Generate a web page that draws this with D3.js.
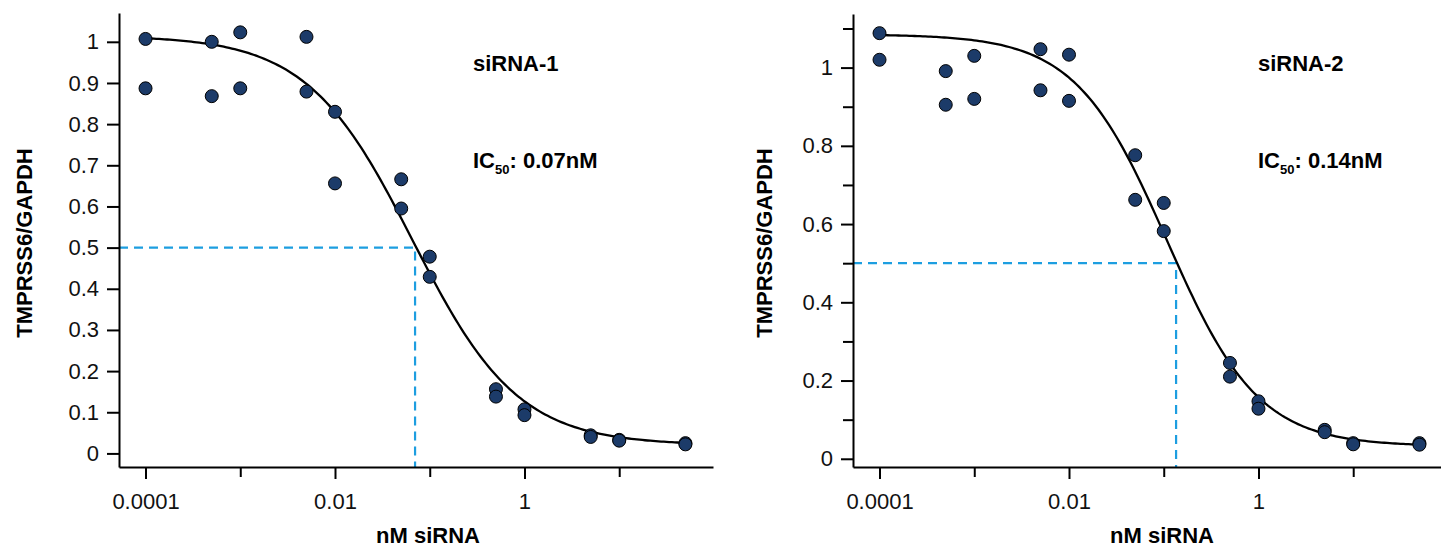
<!DOCTYPE html>
<html>
<head>
<meta charset="utf-8">
<script src="https://cdn.jsdelivr.net/npm/d3@7"></script>
<style>
  body { margin: 0; background: #fff; }
  svg { display: block; font-family: Arial, "Liberation Sans", sans-serif; }
  .axis path, .axis line { stroke: #000; stroke-width: 2px; }
  .axis text { font-size: 22px; fill: #111; }
</style>
</head>
<body>
<div id="chart"></div>
<script>
// concentrations (nM) shared by both panels
var conc = [0.0001, 0.0005, 0.001, 0.005, 0.01, 0.05, 0.1, 0.5, 1, 5, 10, 50];

// TMPRSS6/GAPDH, two replicates per siRNA
var sirna1Rep1 = [1.007, 1.000, 1.023, 1.012, 0.830, 0.666, 0.478, 0.156, 0.107, 0.044, 0.033, 0.025];
var sirna1Rep2 = [0.887, 0.868, 0.887, 0.879, 0.656, 0.595, 0.429, 0.138, 0.093, 0.040, 0.031, 0.022];
var sirna2Rep1 = [1.088, 0.991, 1.030, 1.047, 1.033, 0.776, 0.654, 0.245, 0.147, 0.074, 0.040, 0.040];
var sirna2Rep2 = [1.020, 0.905, 0.920, 0.942, 0.915, 0.662, 0.582, 0.210, 0.128, 0.068, 0.037, 0.036];

// 4-parameter logistic fit for each siRNA
var names = ['siRNA-1', 'siRNA-2'];
var fitTop = [1.015, 1.085];
var fitBottom = [0.02, 0.032];
var fitEC50 = [0.066, 0.108];
var fitHill = [0.78, 0.9];
var ic50 = [0.07, 0.135];
var ic50Label = [': 0.07nM', ': 0.14nM'];

// ticks
var xMajor = [0.0001, 0.01, 1];
var xMajorLabels = ['0.0001', '0.01', '1'];
var xMinor = [0.001, 0.1, 10];
var yTicks1 = [0, 0.1, 0.2, 0.3, 0.4, 0.5, 0.6, 0.7, 0.8, 0.9, 1];
var yTicks2 = [0, 0.2, 0.4, 0.6, 0.8, 1];
var yMinor2 = [0.1, 0.3, 0.5, 0.7, 0.9, 1.1];

var svg = d3.select('#chart').append('svg')
    .attr('width', 1441)
    .attr('height', 548);

// panel layout
var panels = [
  { left: 119, top: 13, bottom: 467, yDomain: [-0.033, 1.07], yTicks: yTicks1, yMinor: [],
    rep1: sirna1Rep1, rep2: sirna1Rep2, titleX: 31.5, labelX: 354 },
  { left: 853, top: 14, bottom: 467, yDomain: [-0.021, 1.137], yTicks: yTicks2, yMinor: yMinor2,
    rep1: sirna2Rep1, rep2: sirna2Rep2, titleX: 771.5, labelX: 405 }
];

panels.forEach(function(p, k) {
  var width = 594;
  var x = d3.scaleLog().domain([Math.pow(10, -4.28), Math.pow(10, 1.99)]).range([0, width]);
  var y = d3.scaleLinear().domain(p.yDomain).range([p.bottom - p.top, 0]);

  var g = svg.append('g')
      .attr('transform', 'translate(' + p.left + ',' + p.top + ')');

  // dashed IC50 guide
  g.append('path')
      .attr('d', 'M0,' + y(0.5) + 'H' + x(ic50[k]) + 'V' + y.range()[0])
      .attr('fill', 'none')
      .attr('stroke', '#1d9ee0')
      .attr('stroke-width', 2.2)
      .attr('stroke-dasharray', '9,6');

  // x axis (major + minor ticks)
  g.append('g')
      .attr('class', 'axis')
      .attr('transform', 'translate(0,' + y.range()[0] + ')')
      .call(d3.axisBottom(x).tickValues(xMajor).tickSizeInner(12).tickSizeOuter(0).tickPadding(14)
        .tickFormat(function(d, i) { return xMajorLabels[i]; }));

  g.append('g')
      .attr('class', 'axis')
      .attr('transform', 'translate(0,' + y.range()[0] + ')')
      .call(d3.axisBottom(x).tickValues(xMinor).tickSize(10).tickFormat(''))
      .select('.domain').remove();

  // y axis
  g.append('g')
      .attr('class', 'axis')
      .call(d3.axisLeft(y).tickValues(p.yTicks).tickSizeInner(12).tickSizeOuter(0).tickPadding(8)
        .tickFormat(d3.format('~g')));

  if (p.yMinor.length) {
    g.append('g')
        .attr('class', 'axis')
        .call(d3.axisLeft(y).tickValues(p.yMinor).tickSize(10).tickFormat(''))
        .select('.domain').remove();
  }

  // fitted curve
  var fit = function(c) {
    return fitBottom[k] + (fitTop[k] - fitBottom[k]) / (1 + Math.pow(c / fitEC50[k], fitHill[k]));
  };
  var lo = Math.log10(conc[0]), hi = Math.log10(conc[conc.length - 1]);
  var curve = d3.range(0, 201).map(function(i) { return Math.pow(10, lo + (hi - lo) * i / 200); });

  g.append('path')
      .datum(curve)
      .attr('fill', 'none')
      .attr('stroke', '#000')
      .attr('stroke-width', 2.3)
      .attr('d', d3.line()
        .x(function(d) { return x(d); })
        .y(function(d) { return y(fit(d)); }));

  // points
  [p.rep1, p.rep2].forEach(function(rep) {
    g.selectAll(null)
        .data(rep)
      .enter().append('circle')
        .attr('cx', function(d, i) { return x(conc[i]); })
        .attr('cy', function(d) { return y(d); })
        .attr('r', 6.5)
        .attr('fill', '#1c3b69')
        .attr('stroke', '#000')
        .attr('stroke-width', 1);
  });

  // annotations
  g.append('text')
      .attr('x', p.labelX)
      .attr('y', 71 - p.top)
      .attr('font-size', 22)
      .attr('font-weight', 'bold')
      .text(names[k]);

  var ic = g.append('text')
      .attr('x', p.labelX)
      .attr('y', 168 - p.top)
      .attr('font-size', 22)
      .attr('font-weight', 'bold');
  ic.append('tspan').text('IC');
  ic.append('tspan').attr('font-size', 13).attr('dy', 6).text('50');
  ic.append('tspan').attr('dy', -6).text(ic50Label[k]);

  // axis titles
  svg.append('text')
      .attr('transform', 'translate(' + p.titleX + ',243) rotate(-90)')
      .attr('text-anchor', 'middle')
      .attr('font-size', 22)
      .attr('font-weight', 'bold')
      .text('TMPRSS6/GAPDH');

  svg.append('text')
      .attr('x', p.left + 309)
      .attr('y', 543)
      .attr('text-anchor', 'middle')
      .attr('font-size', 22)
      .attr('font-weight', 'bold')
      .text('nM siRNA');
});
</script>
</body>
</html>
